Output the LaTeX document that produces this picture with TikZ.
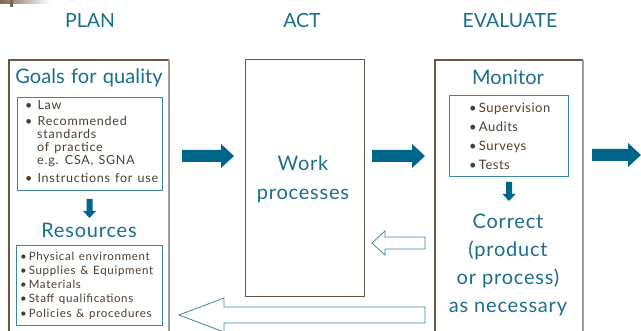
\documentclass[tikz,border=0pt]{standalone}
\usepackage{fontspec}
\setmainfont{Lato}
\newfontfamily\titlefont[LetterSpace=4,WordSpace=1.3]{Lato}
\newfontfamily\goalsfont[LetterSpace=0.5,WordSpace=1.2]{Lato}
\newfontfamily\listfont[LetterSpace=6,WordSpace=1.3]{Lato}
\newfontfamily\monfont[LetterSpace=4]{Lato}
\definecolor{qteal}{HTML}{1A6E8E}
\definecolor{qarrow}{HTML}{006689}
\definecolor{qline}{HTML}{3C87A6}
\definecolor{qbrown}{HTML}{4E3D2E}
\definecolor{qedge}{HTML}{6B5646}
\definecolor{qedgelight}{HTML}{A69C93}
\definecolor{qdeco}{HTML}{7A6552}

% right-pointing filled block arrow: x1, x2, y, shaft half, head half, head length
\newcommand\solidright[6]{%
  \fill[qarrow] (#1,#3-#4) -- (#2-#6,#3-#4) -- (#2-#6,#3-#5) -- (#2,#3)
    -- (#2-#6,#3+#5) -- (#2-#6,#3+#4) -- (#1,#3+#4) -- cycle;}
% downward filled block arrow: x, y1, y2, shaft half, head half, head length
\newcommand\soliddown[6]{%
  \fill[qarrow] (#1-#4,#2) -- (#1-#4,#3-#6) -- (#1-#5,#3-#6) -- (#1,#3)
    -- (#1+#5,#3-#6) -- (#1+#4,#3-#6) -- (#1+#4,#2) -- cycle;}
% left-pointing outlined block arrow: tail x, tip x, y, shaft half, head half, head length
\newcommand\hollowleft[6]{%
  \filldraw[draw=qline,fill=white,line width=0.8pt,line join=miter]
    (#1,#3-#4) -- (#2+#6,#3-#4) -- (#2+#6,#3-#5) -- (#2,#3)
    -- (#2+#6,#3+#5) -- (#2+#6,#3+#4) -- (#1,#3+#4) -- cycle;}

\tikzset{
  head/.style={text=qteal,font=\fontsize{19.5}{22}\selectfont,inner sep=0pt},
  title/.style={text=qteal,font=\titlefont\fontsize{20}{24}\selectfont,inner sep=0pt,align=center},
  item/.style={text=qbrown,inner sep=0pt,anchor=base west},
  itemA/.style={item,font=\listfont\fontsize{12.5}{14}\selectfont},
  itemB/.style={item,font=\listfont\fontsize{11.5}{13}\selectfont},
  itemC/.style={item,font=\monfont\fontsize{13}{15}\selectfont},
  inner/.style={draw=qline,line width=0.9pt,inner sep=0pt},
}

\begin{document}
\begin{tikzpicture}[x=1pt,y=-1pt]
\useasboundingbox (0,0) rectangle (641,331);

% corner ornament
\shade[left color=qdeco,right color=white] (0,0) rectangle (50,3.5);
\fill[qdeco] (10,0) rectangle (13,7);

% column headings
\node[head] (plan) at (90,21) {PLAN};
\node[head] (act) at (302,21) {ACT};
\node[head] (evaluate) at (510,21) {EVALUATE};

% PLAN column frame
\draw[qedge,line width=1.2pt] (9,331) -- (9,60) -- (169,60);
\draw[qedgelight,line width=1.2pt] (169,60) -- (169,331);
\node[title,font=\goalsfont\fontsize{20}{24}\selectfont] (goals) at (89,78) {Goals for quality};
\node[inner,minimum width=145pt,minimum height=93pt] (goalbox) at (89.5,143.5) {};
\node[itemA] (g1) at (25,110) {\textbullet\ Law};
\node[itemA] (g2) at (25,126) {\textbullet\ Recommended};
\node[itemA] (g3) at (37,139) {standards};
\node[itemA] (g4) at (37,152) {of practice};
\node[itemA] (g5) at (37,165) {e.g. CSA, SGNA};
\node[itemA] (g6) at (25,183) {\textbullet\ Instructions for use};
\soliddown{89.5}{199}{218}{3}{6.5}{7}
\node[title] (resources) at (89,230) {Resources};
\node[inner,minimum width=146pt,minimum height=80pt] (resbox) at (89,285) {};
\node[itemB] (r1) at (20,261) {\textbullet\,Physical environment};
\node[itemB] (r2) at (20,275) {\textbullet\,Supplies \& Equipment};
\node[itemB] (r3) at (20,289) {\textbullet\,Materials};
\node[itemB] (r4) at (20,303) {\textbullet\,Staff qualifications};
\node[itemB] (r5) at (20,318) {\textbullet\,Policies \& procedures};

% ACT column frame
\node[draw=qedge,line width=1pt,minimum width=119pt,minimum height=237pt,inner sep=0pt]
  (work) at (304.5,178.5) {};
\node[title,font=\titlefont\fontsize{20}{29}\selectfont] (worktext) at (303,179) {Work\\processes};

% EVALUATE column frame
\draw[qedge,line width=1.2pt] (435,331) -- (435,60) -- (583,60);
\draw[qedgelight,line width=1.2pt] (583,60) -- (583,331);
\node[title,font=\goalsfont\fontsize{20}{24}\selectfont] (monitor) at (508,77) {Monitor};
\node[inner,minimum width=119pt,minimum height=81pt] (monbox) at (508.5,135.5) {};
\node[itemC] (m1) at (469,113) {\textbullet\,Supervision};
\node[itemC] (m2) at (469,132) {\textbullet\,Audits};
\node[itemC] (m3) at (469,151) {\textbullet\,Surveys};
\node[itemC] (m4) at (469,170) {\textbullet\,Tests};
\soliddown{509}{182}{201}{3}{6.5}{7}
\node[title,font=\titlefont\fontsize{20}{28}\selectfont] (correct) at (508,265)
  {Correct\\(product\\or process)\\as necessary};

% flow arrows
\solidright{182}{234}{156}{6}{12}{13}
\solidright{372}{425}{156}{6}{12}{13}
\solidright{592}{641}{155}{6}{12}{13}
\hollowleft{425}{372}{243}{6}{12}{13}
\hollowleft{425}{179}{315}{8}{17}{45}
\end{tikzpicture}
\end{document}
